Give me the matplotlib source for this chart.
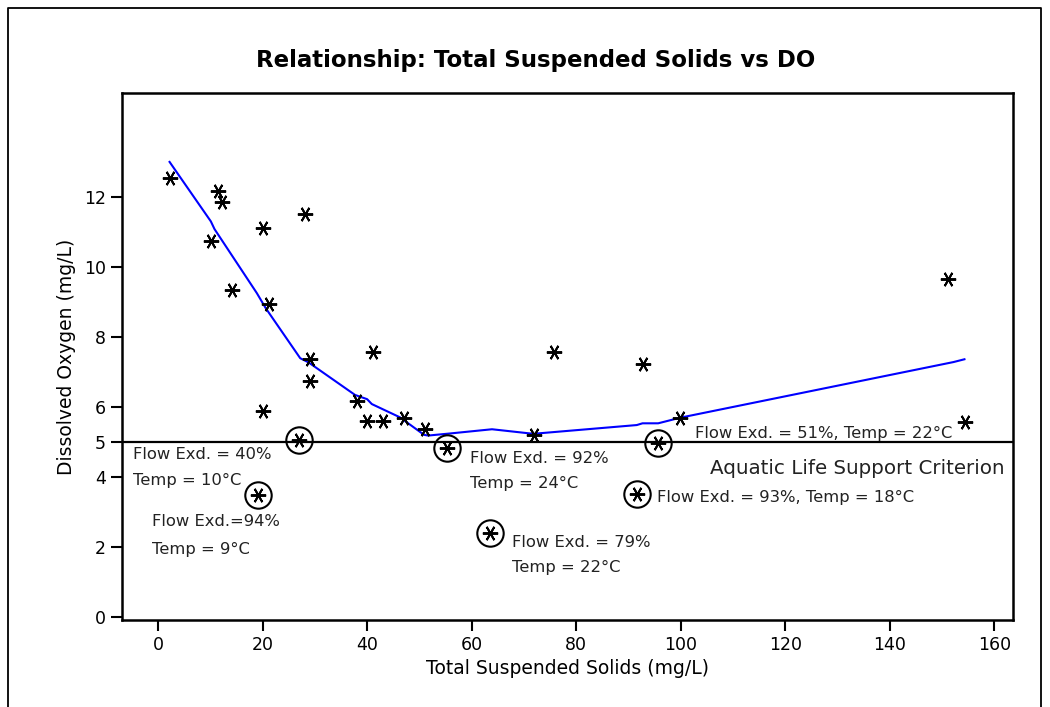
import matplotlib
matplotlib.use("Agg")
import matplotlib.pyplot as plt
from matplotlib.lines import Line2D

# measured points (TSS, DO)
tss = [2.2, 11.4, 12.2, 10.1, 14.2, 20.1, 21.2, 28.2, 29.1, 29.1, 20.1, 38.0,
       40.0, 43.0, 47.1, 51.0, 41.2, 72.0, 75.8, 92.7, 99.8, 151.1, 154.4]
do = [12.54, 12.18, 11.86, 10.75, 9.34, 11.11, 8.95, 11.5, 7.36, 6.75, 5.89, 6.16,
      5.59, 5.59, 5.68, 5.37, 7.56, 5.2, 7.56, 7.23, 5.69, 9.65, 5.58]

# circled samples below the criterion
circ_tss = [27.0, 19.1, 55.3, 63.5, 95.6, 91.6]
circ_do = [5.04, 3.49, 4.82, 2.39, 4.98, 3.51]

# smoothed trend
fit_tss = [2.2, 10.1, 10.8, 18.9, 20.6, 27.2, 28.8, 37.7, 40.0, 40.9, 46.3, 50.9,
           51.7, 55.9, 63.9, 71.8, 91.6, 92.7, 95.7, 99.9, 152.2, 154.3]
fit_do = [13.0, 11.3, 11.08, 9.25, 8.82, 7.39, 7.27, 6.34, 6.22, 6.08, 5.7, 5.2,
          5.18, 5.24, 5.36, 5.23, 5.48, 5.53, 5.53, 5.69, 7.28, 7.36]

criterion = 5

notes = [(-4.8, 4.63, "Flow Exd. = 40%"), (-4.8, 3.89, "Temp = 10\u00b0C"),
         (-1.1, 2.71, "Flow Exd.=94%"), (-1.1, 1.91, "Temp = 9\u00b0C"),
         (59.7, 4.51, "Flow Exd. = 92%"), (59.7, 3.8, "Temp = 24\u00b0C"),
         (67.8, 2.11, "Flow Exd. = 79%"), (67.8, 1.4, "Temp = 22\u00b0C"),
         (102.8, 5.23, "Flow Exd. = 51%, Temp = 22\u00b0C"),
         (95.5, 3.4, "Flow Exd. = 93%, Temp = 18\u00b0C")]

plt.rcParams['font.family'] = ['DejaVu Sans']

fig = plt.figure(figsize=(10.5, 7.07), dpi=100)
ax = fig.add_axes([0.1162, 0.1231, 0.8486, 0.7454])

ax.plot(fit_tss, fit_do, color='#0000ff', lw=1.5, zorder=2)
ax.axhline(criterion, color='black', lw=1.6, zorder=1)
ax.plot(tss, do, ls='none', marker=(6, 2, 90), ms=11, mew=1.4, color='black', zorder=3)
ax.plot(circ_tss, circ_do, ls='none', marker=(6, 2, 90), ms=11, mew=1.4, color='black', zorder=3)
ax.plot(circ_tss, circ_do, ls='none', marker='o', ms=19, mew=1.5, mfc='none', mec='black', zorder=3)

for x, y, s in notes:
    ax.text(x, y, s, fontsize=11.8, va='center', ha='left', color='#222222')
ax.text(162, 4.24, "Aquatic Life Support Criterion", fontsize=14.3, va='center', ha='right', color='#222222')

ax.set_xlim(-6.9, 163.6)
ax.set_ylim(-0.09, 14.97)
ax.set_xticks(range(0, 161, 20))
ax.set_yticks([0, 2, 4, 5, 6, 8, 10, 12])
ax.tick_params(direction='out', length=8, width=1.5, labelsize=12.5)
for sp in ax.spines.values():
    sp.set_linewidth(1.8)

ax.set_xlabel("Total Suspended Solids (mg/L)", fontsize=13.5, labelpad=4)
ax.set_ylabel("Dissolved Oxygen (mg/L)", fontsize=13.5, labelpad=6)
fig.text(0.51, 0.915, "Relationship: Total Suspended Solids vs DO", fontsize=16.5,
         fontweight='bold', ha='center', va='center')

# outer frame (open at the bottom)
fx = [8 / 1050, 8 / 1050, 1041 / 1050, 1041 / 1050]
fy = [0, 1 - 8 / 707, 1 - 8 / 707, 0]
fig.add_artist(Line2D(fx, fy, color='black', lw=1.3, transform=fig.transFigure))

fig.savefig("out.png", dpi=100)
